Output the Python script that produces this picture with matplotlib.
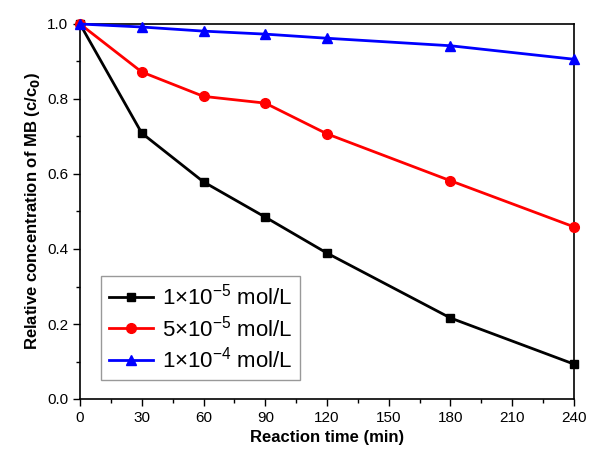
import matplotlib
matplotlib.use('Agg')
import matplotlib.pyplot as plt
from matplotlib.ticker import MultipleLocator

plt.rcParams['font.family'] = ['Liberation Sans', 'DejaVu Sans']
plt.rcParams['mathtext.fontset'] = 'custom'
plt.rcParams['mathtext.rm'] = 'Liberation Sans'

time_min = [0, 30, 60, 90, 120, 180, 240]
conc_1e5 = [1.0, 0.709, 0.579, 0.485, 0.389, 0.216, 0.093]
conc_5e5 = [1.0, 0.872, 0.807, 0.789, 0.707, 0.582, 0.459]
conc_1e4 = [1.0, 0.992, 0.981, 0.973, 0.962, 0.942, 0.906]
labels = [r'1$\times$10$^{\mathrm{-5}}$ mol/L', r'5$\times$10$^{\mathrm{-5}}$ mol/L', r'1$\times$10$^{\mathrm{-4}}$ mol/L']

fig = plt.figure(figsize=(6, 4.66), dpi=100)
ax = fig.add_axes([80/600, 67/466, 494/600, 375/466])

ax.plot(time_min, conc_1e5, color='black', marker='s', ms=6, lw=2, label=labels[0], clip_on=False, zorder=3)
ax.plot(time_min, conc_5e5, color='red', marker='o', ms=7, lw=2, label=labels[1], clip_on=False, zorder=3)
ax.plot(time_min, conc_1e4, color='blue', marker='^', ms=7, lw=2, label=labels[2], clip_on=False, zorder=3)

ax.set_xlim(0, 240)
ax.set_ylim(0, 1.0)
ax.xaxis.set_major_locator(MultipleLocator(30))
ax.xaxis.set_minor_locator(MultipleLocator(15))
ax.yaxis.set_major_locator(MultipleLocator(0.2))
ax.yaxis.set_minor_locator(MultipleLocator(0.1))
ax.yaxis.set_major_formatter(matplotlib.ticker.FormatStrFormatter('%.1f'))
ax.tick_params(which='major', direction='out', length=5, width=1, labelsize=11)
ax.tick_params(which='minor', direction='out', length=3, width=1)
for s in ax.spines.values():
    s.set_linewidth(1.2)

ax.set_xlabel('Reaction time (min)', fontsize=12, fontweight='bold')
ax.set_ylabel(r'Relative concentration of MB (c/c$_\mathbf{0}$)', fontsize=12, fontweight='bold')

leg = ax.legend(loc='lower left', bbox_to_anchor=(0.0425, 0.05), borderaxespad=0, fontsize=16,
                frameon=True, fancybox=False, edgecolor='gray', handlelength=2.0,
                handletextpad=0.4, borderpad=0.35, labelspacing=0.25)
leg.get_frame().set_linewidth(1)

fig.savefig('out.png', dpi=100)
